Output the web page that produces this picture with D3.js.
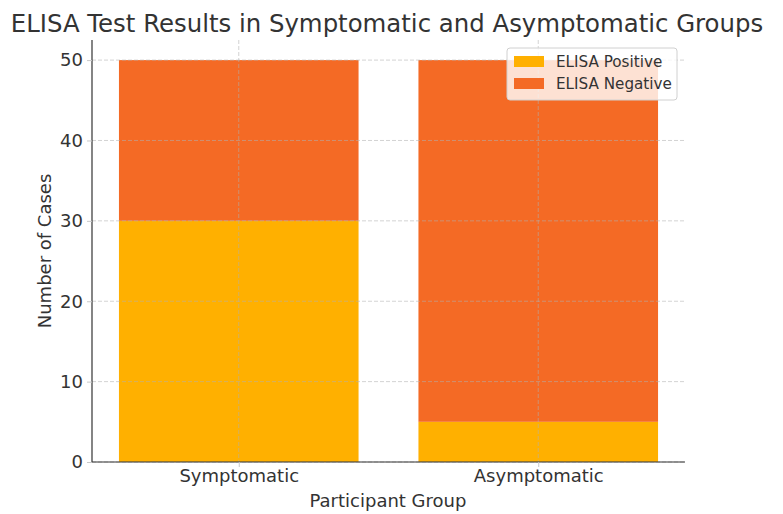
<!DOCTYPE html>
<html>
<head>
<meta charset="utf-8">
<script src="https://cdn.jsdelivr.net/npm/d3@7/dist/d3.min.js"></script>
<style>
  html, body { margin: 0; padding: 0; background: #fff; }
  svg { display: block; font-family: "DejaVu Sans", sans-serif; }
</style>
</head>
<body>
<svg id="chart" width="783" height="514"></svg>
<script>
// Participant groups and ELISA outcomes (stacked)
const groups = ["Symptomatic", "Asymptomatic"];
const positive = [30, 5];
const negative = [20, 45];
const seriesNames = ["ELISA Positive", "ELISA Negative"];
const seriesColors = ["#FFB000", "#F46A25"];
const yTicks = [0, 10, 20, 30, 40, 50];

const svg = d3.select("#chart");
const m = { left: 92, right: 685, top: 40, bottom: 462 };
const textColor = "#333";

// x spans -0.49..1.49 in category units (bar width 0.8 plus a small margin)
const x = d3.scaleLinear().domain([-0.49, 1.49]).range([m.left, m.right]);
const y = d3.scaleLinear().domain([0, 52.5]).range([m.bottom, m.top]);
const barW = 0.8;

// stacked layers
const stackData = groups.map((g, i) => ({ group: g, i, pos: positive[i], neg: negative[i] }));
const stack = d3.stack().keys(["pos", "neg"])(stackData);

svg.append("g").selectAll("g")
  .data(stack).join("g")
  .attr("fill", (d, k) => seriesColors[k])
  .selectAll("rect")
  .data(d => d).join("rect")
  .attr("x", d => x(d.data.i - barW / 2))
  .attr("width", d => x(barW) - x(0))
  .attr("y", d => y(d[1]))
  .attr("height", d => y(d[0]) - y(d[1]));

// dashed grid drawn over the bars
const grid = svg.append("g").attr("stroke", "#b0b0b0").attr("stroke-opacity", 0.7)
  .attr("stroke-dasharray", "4,2").attr("stroke-width", 0.8);
grid.selectAll("line.h").data(yTicks).join("line").attr("class", "h")
  .attr("x1", m.left).attr("x2", m.right)
  .attr("y1", d => y(d)).attr("y2", d => y(d));
grid.selectAll("line.v").data(groups.map((g, i) => i)).join("line").attr("class", "v")
  .attr("y1", m.top).attr("y2", m.bottom)
  .attr("x1", d => x(d)).attr("x2", d => x(d));

// y axis
const yAxis = svg.append("g").attr("transform", `translate(${m.left},0)`)
  .call(d3.axisLeft(y).tickValues(yTicks).tickSize(5).tickPadding(4));
yAxis.select(".domain").attr("stroke", textColor).attr("stroke-width", 1.2)
  .attr("d", `M0,${m.top}V${m.bottom}`);
yAxis.selectAll(".tick line").attr("stroke", "#c8c8c8");
yAxis.selectAll(".tick text").attr("fill", textColor).style("font-size", "18px")
  .style("font-family", "DejaVu Sans");

// x axis
const xAxis = svg.append("g").attr("transform", `translate(0,${m.bottom})`)
  .call(d3.axisBottom(x).tickValues([0, 1]).tickFormat(i => groups[i]).tickSize(5).tickPadding(2));
xAxis.select(".domain").attr("stroke", textColor).attr("stroke-width", 1.2)
  .attr("d", `M${m.left},0H${m.right}`);
xAxis.selectAll(".tick line").attr("stroke", "#c8c8c8");
xAxis.selectAll(".tick text").attr("fill", textColor).style("font-size", "18px")
  .style("font-family", "DejaVu Sans");

// titles
svg.append("text").attr("x", 387).attr("y", 32).attr("text-anchor", "middle")
  .attr("fill", textColor).style("font-size", "24.4px").text("ELISA Test Results in Symptomatic and Asymptomatic Groups");
svg.append("text").attr("x", 388).attr("y", 507).attr("text-anchor", "middle")
  .attr("fill", textColor).style("font-size", "18px").text("Participant Group");
svg.append("text").attr("transform", "translate(51,251) rotate(-90)").attr("text-anchor", "middle")
  .attr("fill", textColor).style("font-size", "18px").text("Number of Cases");

// legend
const lg = svg.append("g").attr("transform", "translate(507,48)");
lg.append("rect").attr("width", 170).attr("height", 52).attr("rx", 3)
  .attr("fill", "#fff").attr("fill-opacity", 0.8).attr("stroke", "#d0d0d0");
seriesNames.forEach((name, k) => {
  const row = lg.append("g").attr("transform", `translate(7,${8 + k * 22})`);
  row.append("rect").attr("width", 30).attr("height", 11).attr("fill", seriesColors[k]);
  row.append("text").attr("x", 42).attr("y", 11).attr("fill", textColor)
    .style("font-size", "15.2px").text(name);
});
</script>
</body>
</html>
